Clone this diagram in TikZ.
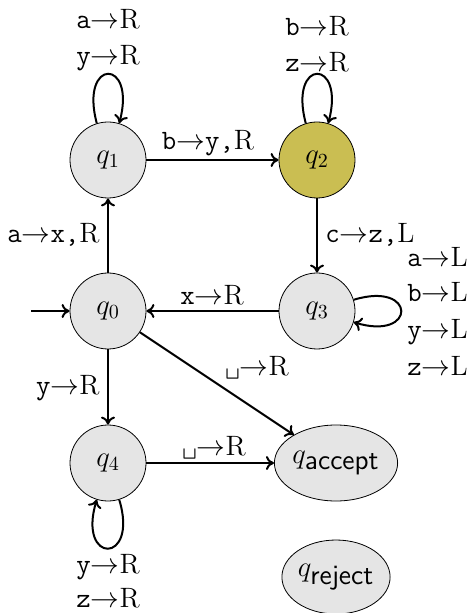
\documentclass[tikz,border=0pt]{standalone}
\usetikzlibrary{shapes.geometric,arrows.meta}
\definecolor{stgray}{gray}{0.9}
\definecolor{stolive}{RGB}{202,190,82}
\newcommand{\tra}[2]{\texttt{#1}$\rightarrow$#2}
\begin{document}
\begin{tikzpicture}[x=0.5pt,y=-0.5pt,
  every node/.style={font=\fontsize{14}{17}\selectfont},
  state/.style={circle,draw,thin,fill=stgray,minimum size=38pt,inner sep=0pt},
  estate/.style={ellipse,draw,thin,fill=stgray,inner sep=0pt},
  tr/.style={-{To[length=4pt,width=7pt]},line width=1pt},
  lbl/.style={anchor=base,inner sep=0pt},
  lble/.style={anchor=base east,inner sep=0pt},
  lblw/.style={anchor=base west,inner sep=0pt}]
\useasboundingbox (0,0) rectangle (467,613);
% states
\node[state] (q0) at (108,311) {$q_0$};
\node[state] (q1) at (108,160) {$q_1$};
\node[state,fill=stolive] (q2) at (317,160) {$q_2$};
\node[state] (q3) at (317,311) {$q_3$};
\node[state] (q4) at (108,463) {$q_4$};
\node[estate,minimum width=57pt,minimum height=38pt] (qa) at (336,463) {$q_{\textsf{accept}}$};
\node[estate,minimum width=51pt,minimum height=37pt] (qr) at (336,577) {$q_{\textsf{reject}}$};
% transitions
\coordinate (init) at (31,311);
\draw[tr] (init) -- (q0);
\draw[tr] (q0) -- (q1);
\draw[tr] (q1) -- (q2);
\draw[tr] (q2) -- (q3);
\draw[tr] (q3) -- (q0);
\draw[tr] (q0) -- (q4);
\draw[tr] (q0) -- (qa);
\draw[tr] (q4) -- (qa);
% loops
\draw[tr] (q1.107) .. controls +(105:34pt) and +(75:34pt) .. (q1.73);
\draw[tr] (q2.107) .. controls +(105:34pt) and +(75:34pt) .. (q2.73);
\draw[tr] (q3.17) .. controls +(17:33pt) and +(-17:33pt) .. (q3.-17);
\draw[tr] (q4.-73) .. controls +(-73:34pt) and +(-107:34pt) .. (q4.-107);
% labels
\node[lbl] (l1a) at (108,29) {\tra{a}{R}};
\node[lbl] (l1b) at (108,65) {\tra{y}{R}};
\node[lbl] (l2a) at (317,36) {\tra{b}{R}};
\node[lbl] (l2b) at (317,72) {\tra{z}{R}};
\node[lbl] (l12) at (208,150) {\texttt{b}$\rightarrow$\texttt{y,}R};
\node[lble] (l01) at (100,243) {\texttt{a}$\rightarrow$\texttt{x,}R};
\node[lblw] (l23) at (325,243) {\texttt{c}$\rightarrow$\texttt{z,}L};
\node[lbl] (l30) at (212,305) {\tra{x}{R}};
\node[lblw] (l3a) at (407,267) {\tra{a}{L}};
\node[lblw] (l3b) at (407,302) {\tra{b}{L}};
\node[lblw] (l3c) at (407,338) {\tra{y}{L}};
\node[lblw] (l3d) at (407,375) {\tra{z}{L}};
\node[lble] (l04) at (100,394) {\tra{y}{R}};
\node[lblw] (l0a) at (225,375) {\texttt{\textvisiblespace}$\rightarrow$R};
\node[lblw] (l4a) at (182,455) {\texttt{\textvisiblespace}$\rightarrow$R};
\node[lbl] (l4b) at (108,573) {\tra{y}{R}};
\node[lbl] (l4c) at (108,607) {\tra{z}{R}};
\end{tikzpicture}
\end{document}
